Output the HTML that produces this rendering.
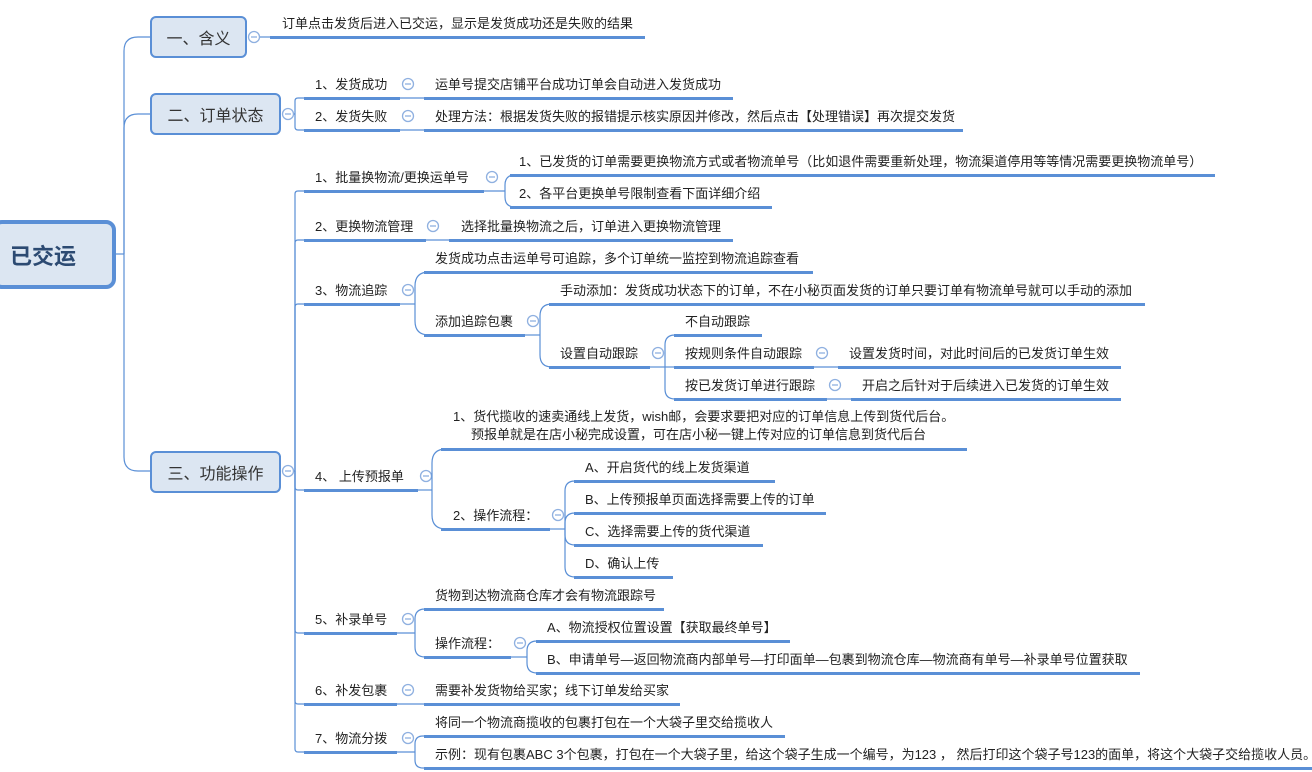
<!DOCTYPE html>
<html><head><meta charset="utf-8">
<style>
body{margin:0;width:1312px;height:772px;overflow:hidden;background:#fff;position:relative;font-family:"Liberation Sans","Noto Sans CJK SC",sans-serif;}
.t{position:absolute;font-size:13px;line-height:18px;color:#222;white-space:nowrap;}
.u{position:absolute;height:3px;background:#5a8fd6;}
.box{position:absolute;box-sizing:border-box;border:2px solid #5a8fd6;border-radius:6px;background:#dce6f2;color:#333;font-size:16px;display:flex;align-items:center;justify-content:center;}
svg{position:absolute;left:0;top:0;}
</style></head><body>
<svg id="s" width="1312" height="772"></svg>
<div class="box" style="left:-8px;top:220px;width:124px;height:69px;border-width:4px;border-radius:10px;font-size:22px;font-weight:bold;color:#2c4a72;justify-content:flex-start;padding-left:14px;">已交运</div>
<div class="box" style="left:150px;top:16px;width:97px;height:42px;">一、含义</div>
<div class="box" style="left:150px;top:93px;width:131px;height:42px;">二、订单状态</div>
<div class="box" style="left:150px;top:451px;width:131px;height:42px;">三、功能操作</div>
<div id="c"></div>
<script>
var S=document.getElementById('s'),C=document.getElementById('c'),col='#5a8fd6',p='';
function N(txt,x,uy,u1,u2,off){var d=document.createElement('div');d.className='t';d.style.left=x+'px';d.style.top=(uy-(off||22))+'px';d.innerHTML=txt;C.appendChild(d);var u=document.createElement('div');u.className='u';u.style.left=u1+'px';u.style.width=(u2-u1)+'px';u.style.top=(uy-1)+'px';C.appendChild(u);}
function O(x,y){p+='<circle cx="'+x+'" cy="'+y+'" r="5.5" fill="#fff" stroke="#8fb0e0" stroke-width="1.3"/><line x1="'+(x-3)+'" y1="'+y+'" x2="'+(x+3)+'" y2="'+y+'" stroke="#8fb0e0" stroke-width="1.3"/>';}
function L(x1,y1,x2,y2){p+='<line x1="'+x1+'" y1="'+y1+'" x2="'+x2+'" y2="'+y2+'" stroke="'+col+'" stroke-width="1.2"/>';}
function B(sx,py,bx,cx,ys,r){r=r||10;L(sx,py,bx,py);ys.forEach(function(cy){var s=cy<py?-1:1;if(Math.abs(cy-py)<2){L(bx,py,cx,cy);return;}p+='<path d="M'+bx+','+py+' L'+bx+','+(cy-s*r)+' Q'+bx+','+cy+' '+(bx+r)+','+cy+' L'+cx+','+cy+'" fill="none" stroke="'+col+'" stroke-width="1.2"/>';});}
B(116,254,124,150,[37,114,471],14);
O(254,37);L(260,37,270,37);N('订单点击发货后进入已交运，显示是发货成功还是失败的结果',282,37,270,645);
O(288,114);B(294,114,295,304,[98,130],3);
N('1、发货成功',315,98,304,400);O(408,84);L(400,98,424,98);N('运单号提交店铺平台成功订单会自动进入发货成功',435,98,424,733);
N('2、发货失败',315,130,304,400);O(408,116);L(400,130,424,130);N('处理方法：根据发货失败的报错提示核实原因并修改，然后点击【处理错误】再次提交发货',435,130,424,963);
O(288,471);B(294,471,295,304,[191,240,304,490,633,704,752],3);
N('1、批量换物流/更换运单号',315,191,304,484);O(492,177);B(484,191,505,512,[175,207],10);
N('1、已发货的订单需要更换物流方式或者物流单号（比如退件需要重新处理，物流渠道停用等等情况需要更换物流单号）',519,175,510,1215);
N('2、各平台更换单号限制查看下面详细介绍',519,207,510,772);
N('2、更换物流管理',315,240,304,426);O(433,226);L(426,240,449,240);N('选择批量换物流之后，订单进入更换物流管理',461,240,449,733);
N('3、物流追踪',315,304,304,400);O(408,290);B(400,304,415,424,[272,335],14);
N('发货成功点击运单号可追踪，多个订单统一监控到物流追踪查看',435,272,424,813);
N('添加追踪包裹',435,335,424,525);O(533,321);B(525,335,540,549,[304,367],12);
N('手动添加：发货成功状态下的订单，不在小秘页面发货的订单只要订单有物流单号就可以手动的添加',560,304,549,1145);
N('设置自动跟踪',560,367,549,650);O(658,353);B(650,367,665,674,[335,367,399],10);
N('不自动跟踪',685,335,674,762);
N('按规则条件自动跟踪',685,367,674,814);O(822,353);L(814,367,838,367);N('设置发货时间，对此时间后的已发货订单生效',849,367,838,1121);
N('按已发货订单进行跟踪',685,399,674,827);O(835,385);L(827,399,851,399);N('开启之后针对于后续进入已发货的订单生效',862,399,851,1121);
N('4、 上传预报单',315,490,304,418);O(426,476);B(418,490,432,441,[449,529],14);
N('1、货代揽收的速卖通线上发货，wish邮，会要求要把对应的订单信息上传到货代后台。<br>&nbsp;&nbsp;&nbsp;&nbsp;&nbsp;预报单就是在店小秘完成设置，可在店小秘一键上传对应的订单信息到货代后台',453,449,441,967,41);
N('2、操作流程：',453,529,441,550);O(558,515);B(550,529,565,574,[481,513,545,577],10);
N('A、开启货代的线上发货渠道',585,481,574,775);
N('B、上传预报单页面选择需要上传的订单',585,513,574,826);
N('C、选择需要上传的货代渠道',585,545,574,763);
N('D、确认上传',585,577,574,673);
N('5、补录单号',315,633,304,397);O(408,619);B(397,633,415,424,[609,657],10);
N('货物到达物流商仓库才会有物流跟踪号',435,609,424,664);
N('操作流程：',435,657,424,511);O(520,643);B(511,657,527,536,[641,673],10);
N('A、物流授权位置设置【获取最终单号】',547,641,536,790);
N('B、申请单号—返回物流商内部单号—打印面单—包裹到物流仓库—物流商有单号—补录单号位置获取',547,673,536,1140);
N('6、补发包裹',315,704,304,397);O(408,690);L(397,704,424,704);N('需要补发货物给买家；线下订单发给买家',435,704,424,680);
N('7、物流分拨',315,752,304,397);O(408,738);B(397,752,415,424,[736,768],8);
N('将同一个物流商揽收的包裹打包在一个大袋子里交给揽收人',435,736,424,785);
N('示例：现有包裹ABC 3个包裹，打包在一个大袋子里，给这个袋子生成一个编号，为123 ， 然后打印这个袋子号123的面单，将这个大袋子交给揽收人员。',435,768,424,1312);
S.innerHTML=p;
</script>
</body></html>
